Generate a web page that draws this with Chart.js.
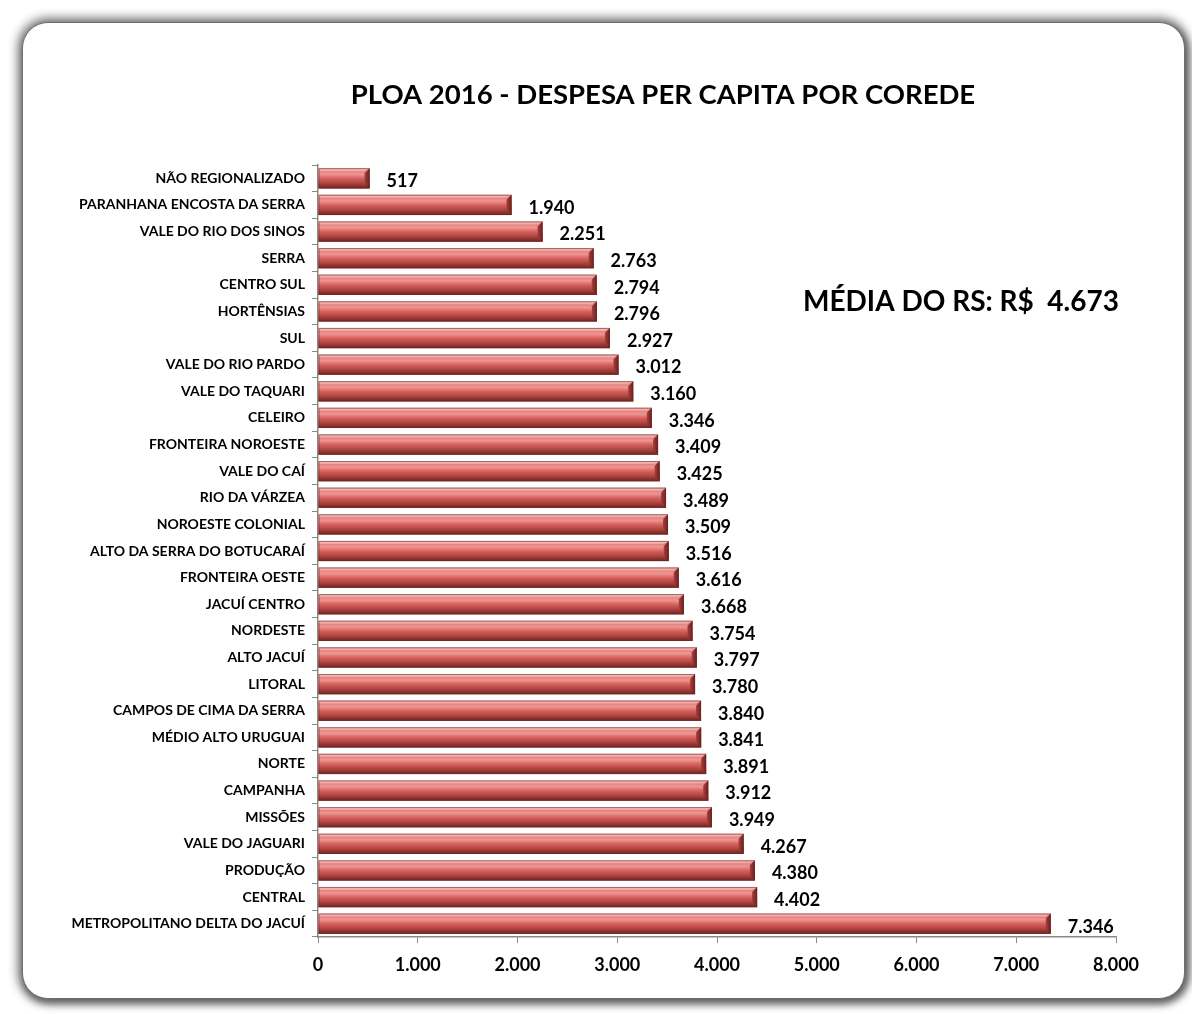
<!DOCTYPE html>
<html>
<head>
<meta charset="utf-8">
<script src="https://cdn.jsdelivr.net/npm/chart.js@4.4.1/dist/chart.umd.min.js"></script>
<style>
    body { margin: 0; background: #ffffff; }
    #wrap { position: relative; width: 1192px; height: 1014px; overflow: hidden; }
    #frame {
        position: absolute; left: 22px; top: 22px; width: 1161px; height: 975px;
        border: 1.5px solid #6e6e6e; border-radius: 26px; background: #ffffff;
        box-shadow: 0 0 10px 5px rgba(0, 0, 0, 0.45), 2px 3px 6px 2px rgba(0, 0, 0, 0.35);
    }
    #myChart { position: absolute; left: 0; top: 0; }
</style>
</head>
<body>
<div id="wrap">
    <div id="frame"></div>
    <canvas id="myChart" width="1192" height="1014"></canvas>
</div>
<script>
// Chart data
const coredes = [
    'NÃO REGIONALIZADO', 'PARANHANA ENCOSTA DA SERRA', 'VALE DO RIO DOS SINOS', 'SERRA',
    'CENTRO SUL', 'HORTÊNSIAS', 'SUL', 'VALE DO RIO PARDO', 'VALE DO TAQUARI', 'CELEIRO',
    'FRONTEIRA NOROESTE', 'VALE DO CAÍ', 'RIO DA VÁRZEA', 'NOROESTE COLONIAL',
    'ALTO DA SERRA DO BOTUCARAÍ', 'FRONTEIRA OESTE', 'JACUÍ CENTRO', 'NORDESTE', 'ALTO JACUÍ',
    'LITORAL', 'CAMPOS DE CIMA DA SERRA', 'MÉDIO ALTO URUGUAI', 'NORTE', 'CAMPANHA', 'MISSÕES',
    'VALE DO JAGUARI', 'PRODUÇÃO', 'CENTRAL', 'METROPOLITANO DELTA DO JACUÍ'
];
const despesaPerCapita = [
    517, 1940, 2251, 2763, 2794, 2796, 2927, 3012, 3160, 3346,
    3409, 3425, 3489, 3509, 3516, 3616, 3668, 3754, 3797, 3780,
    3840, 3841, 3891, 3912, 3949, 4267, 4380, 4402, 7346
];
const xTicks = [0, 1000, 2000, 3000, 4000, 5000, 6000, 7000, 8000];
const chartTitle = 'PLOA 2016 - DESPESA PER CAPITA POR COREDE';
const mediaText = 'MÉDIA DO RS: R$  4.673';

const FONT = "Lato, 'Open Sans', sans-serif";

// Format numbers with dot as thousand separator
function fmt(v) {
    return String(v).replace(/\B(?=(\d{3})+(?!\d))/g, '.');
}

// Plugin: bevelled bars like the Excel preset
const bevelBars = {
    id: 'bevelBars',
    afterDatasetsDraw(chart) {
        const ctx = chart.ctx;
        const meta = chart.getDatasetMeta(0);
        meta.data.forEach(bar => {
            const left = bar.base, right = bar.x;
            const top = bar.y - bar.height / 2, bottom = bar.y + bar.height / 2;
            const h = bottom - top;
            const b = 5;
            ctx.save();
            // main face
            let g = ctx.createLinearGradient(0, top, 0, bottom);
            g.addColorStop(0, '#f2b5b3');
            g.addColorStop(0.12, '#e47c79');
            g.addColorStop(0.3, '#ee9693');
            g.addColorStop(0.5, '#d8625f');
            g.addColorStop(0.75, '#ad433f');
            g.addColorStop(1, '#6d2321');
            ctx.fillStyle = g;
            ctx.fillRect(left, top, right - left, h);
            // right chamfer
            let g2 = ctx.createLinearGradient(right - b, 0, right, 0);
            g2.addColorStop(0, '#a5403c');
            g2.addColorStop(1, '#6a201e');
            ctx.fillStyle = g2;
            ctx.beginPath();
            ctx.moveTo(right - b, top + b);
            ctx.lineTo(right, top);
            ctx.lineTo(right, bottom);
            ctx.lineTo(right - b, bottom - b);
            ctx.closePath();
            ctx.fill();
            // top highlight
            ctx.fillStyle = 'rgba(255,225,224,0.45)';
            ctx.beginPath();
            ctx.moveTo(left, top);
            ctx.lineTo(right, top);
            ctx.lineTo(right - b, top + b * 0.6);
            ctx.lineTo(left, top + b * 0.6);
            ctx.closePath();
            ctx.fill();
            ctx.strokeStyle = 'rgba(110,40,38,0.6)';
            ctx.lineWidth = 1;
            ctx.strokeRect(left + 0.5, top + 0.5, right - left - 1, h - 1);
            ctx.restore();
        });
    }
};

// Plugin: value labels, title and the state average note
const extraText = {
    id: 'extraText',
    afterDraw(chart) {
        const ctx = chart.ctx;
        const meta = chart.getDatasetMeta(0);
        ctx.save();
        ctx.fillStyle = '#000000';
        ctx.font = 'bold 18px ' + FONT;
        ctx.textAlign = 'left';
        ctx.textBaseline = 'middle';
        meta.data.forEach((bar, i) => {
            ctx.fillText(fmt(despesaPerCapita[i]), bar.x + 17, bar.y + 3);
        });
        ctx.font = 'bold 27.5px ' + FONT;
        ctx.textAlign = 'center';
        ctx.fillText(chartTitle, 663, 95);
        ctx.font = 'bold 28px ' + FONT;
        ctx.textAlign = 'left';
        ctx.fillText(mediaText, 803, 302);
        ctx.restore();
    }
};

const ctx = document.getElementById('myChart').getContext('2d');
const myChart = new Chart(ctx, {
    type: 'bar',
    data: {
        labels: coredes,
        datasets: [{
            data: despesaPerCapita,
            backgroundColor: '#d0605c',
            barPercentage: 0.76,
            categoryPercentage: 1.0
        }]
    },
    options: {
        indexAxis: 'y',
        responsive: false,
        animation: false,
        layout: { padding: { top: 165, right: 76, left: 0, bottom: 0 } },
        plugins: {
            legend: { display: false },
            title: { display: false },
            tooltip: { enabled: false }
        },
        scales: {
            x: {
                min: 0,
                max: 8000,
                afterFit(scale) { scale.height = 77; },
                afterBuildTicks(scale) { scale.ticks = xTicks.map(v => ({ value: v })); },
                grid: { drawOnChartArea: false, tickLength: 6, color: '#888888' },
                border: { color: '#888888', width: 1.5 },
                ticks: {
                    padding: 11,
                    color: '#000000',
                    font: { family: FONT, size: 18, weight: 'bold' },
                    callback: v => fmt(v)
                }
            },
            y: {
                afterFit(scale) { scale.width = 318; },
                grid: { drawOnChartArea: false, tickLength: 6, color: '#888888' },
                border: { color: '#888888', width: 1.5 },
                ticks: {
                    padding: 7,
                    autoSkip: false,
                    color: '#000000',
                    font: { family: FONT, size: 14, weight: 'bold' }
                }
            }
        }
    },
    plugins: [bevelBars, extraText]
});
</script>
</body>
</html>
